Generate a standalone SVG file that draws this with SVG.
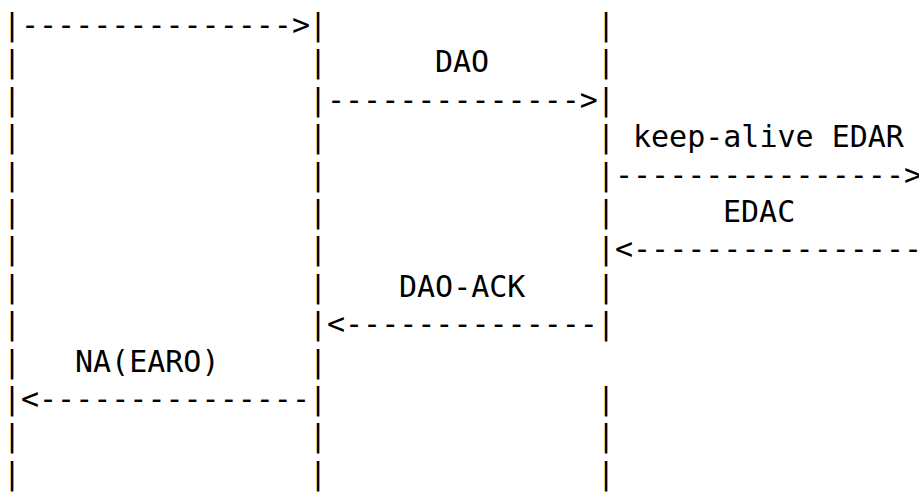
<svg xmlns="http://www.w3.org/2000/svg" width="919" height="492" viewBox="0 0 919 492">
  <style>
    text { font-family: "DejaVu Sans Mono", "Liberation Mono", monospace; font-size: 30px; fill: #000; white-space: pre; }
  </style>
  <rect x="0" y="0" width="919" height="492" fill="#ffffff"/>
  <g id="lifeline-1">
    <text x="3" y="35">|</text>
    <text x="3" y="72.4">|</text>
    <text x="3" y="109.8">|</text>
    <text x="3" y="147.2">|</text>
    <text x="3" y="184.6">|</text>
    <text x="3" y="222">|</text>
    <text x="3" y="259.4">|</text>
    <text x="3" y="296.8">|</text>
    <text x="3" y="334.2">|</text>
    <text x="3" y="371.6">|</text>
    <text x="3" y="409">|</text>
    <text x="3" y="446.4">|</text>
    <text x="3" y="483.8">|</text>
  </g>
  <g id="lifeline-2">
    <text x="309" y="35">|</text>
    <text x="309" y="72.4">|</text>
    <text x="309" y="109.8">|</text>
    <text x="309" y="147.2">|</text>
    <text x="309" y="184.6">|</text>
    <text x="309" y="222">|</text>
    <text x="309" y="259.4">|</text>
    <text x="309" y="296.8">|</text>
    <text x="309" y="334.2">|</text>
    <text x="309" y="371.6">|</text>
    <text x="309" y="409">|</text>
    <text x="309" y="446.4">|</text>
    <text x="309" y="483.8">|</text>
  </g>
  <g id="lifeline-3">
    <text x="597" y="35">|</text>
    <text x="597" y="72.4">|</text>
    <text x="597" y="109.8">|</text>
    <text x="597" y="147.2">|</text>
    <text x="597" y="184.6">|</text>
    <text x="597" y="222">|</text>
    <text x="597" y="259.4">|</text>
    <text x="597" y="296.8">|</text>
    <text x="597" y="334.2">|</text>
    <text x="597" y="409">|</text>
    <text x="597" y="446.4">|</text>
    <text x="597" y="483.8">|</text>
  </g>
  <g id="connectors">
    <text x="21" y="35">---------------&gt;</text>
    <text x="327" y="109.8">--------------&gt;</text>
    <text x="615" y="184.6">----------------&gt;</text>
    <text x="615" y="259.4">&lt;----------------</text>
    <text x="327" y="334.2">&lt;--------------</text>
    <text x="21" y="409">&lt;---------------</text>
  </g>
  <g id="labels">
    <text x="435" y="72.4">DAO</text>
    <text x="633" y="147.2">keep-alive EDAR</text>
    <text x="723" y="222">EDAC</text>
    <text x="399" y="296.8">DAO-ACK</text>
    <text x="75" y="371.6">NA(EARO)</text>
  </g>
</svg>
